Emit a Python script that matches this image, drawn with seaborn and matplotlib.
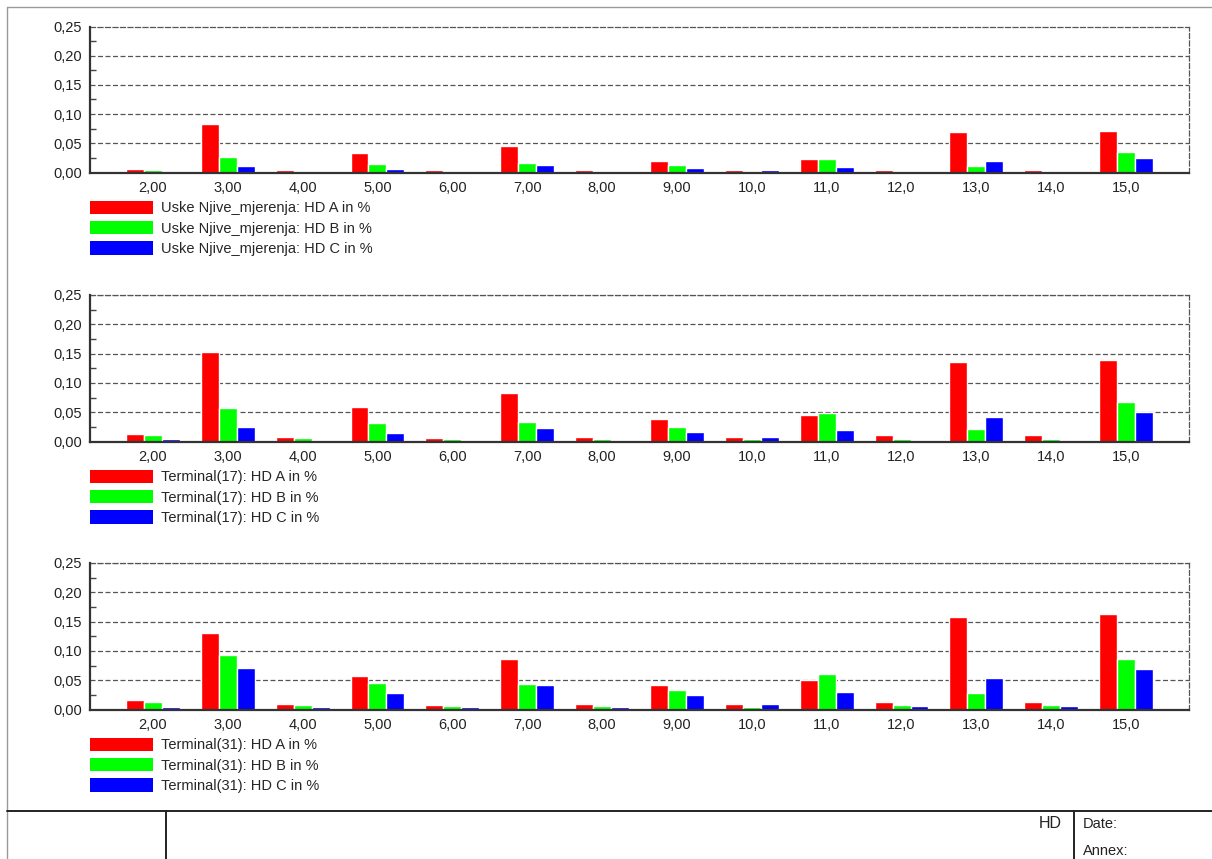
import pandas as pd
import matplotlib.pyplot as plt
import matplotlib.ticker as mticker
from matplotlib.patches import Patch
from matplotlib.lines import Line2D
import seaborn as sns

# -----------------------------
# Data
# -----------------------------
harmonics = ['2,00', '3,00', '4,00', '5,00', '6,00', '7,00', '8,00',
             '9,00', '10,0', '11,0', '12,0', '13,0', '14,0', '15,0']

# Uske Njive_mjerenja
uske_a = [0.006, 0.0835, 0.004, 0.033, 0.004, 0.046, 0.004, 0.020, 0.0045, 0.023, 0.0045, 0.069, 0.0045, 0.0705]
uske_b = [0.005, 0.026, 0.003, 0.015, 0.003, 0.017, 0.003, 0.013, 0.002, 0.023, 0.003, 0.011, 0.003, 0.035]
uske_c = [0.001, 0.011, 0.001, 0.006, 0.001, 0.012, 0.002, 0.007, 0.0045, 0.010, 0.002, 0.020, 0.002, 0.024]

# Terminal(17)
t17_a = [0.013, 0.153, 0.008, 0.059, 0.006, 0.082, 0.007, 0.038, 0.0085, 0.045, 0.011, 0.136, 0.011, 0.139]
t17_b = [0.011, 0.057, 0.006, 0.032, 0.004, 0.033, 0.004, 0.025, 0.004, 0.048, 0.005, 0.022, 0.005, 0.068]
t17_c = [0.004, 0.024, 0.003, 0.014, 0.003, 0.023, 0.003, 0.016, 0.0085, 0.020, 0.003, 0.041, 0.003, 0.0505]

# Terminal(31)
t31_a = [0.016, 0.131, 0.009, 0.058, 0.008, 0.087, 0.010, 0.0415, 0.010, 0.0505, 0.0125, 0.157, 0.0125, 0.1625]
t31_b = [0.0135, 0.093, 0.007, 0.045, 0.0055, 0.044, 0.0055, 0.033, 0.0045, 0.061, 0.007, 0.0275, 0.007, 0.0855]
t31_c = [0.005, 0.071, 0.0045, 0.029, 0.0045, 0.0415, 0.0045, 0.024, 0.010, 0.030, 0.0055, 0.054, 0.0055, 0.069]

panels = [
    ('Uske Njive_mjerenja', [uske_a, uske_b, uske_c]),
    ('Terminal(17)', [t17_a, t17_b, t17_c]),
    ('Terminal(31)', [t31_a, t31_b, t31_c]),
]
phases = ['A', 'B', 'C']
colors = ['#ff0000', '#00ff00', '#0000ff']

# -----------------------------
# Figure setup
# -----------------------------
sns.set_style('white')
plt.rcParams['font.family'] = ['Liberation Sans', 'DejaVu Sans']
plt.rcParams['font.size'] = 10

W, H = 1212, 859
fig = plt.figure(figsize=(W / 100, H / 100), dpi=100)

# axes boxes in pixels: (top, bottom)
boxes = [(26.5, 172.5), (295, 441.5), (563, 709.5)]
ax_left, ax_right = 90, 1189

for (name, series), (top, bottom) in zip(panels, boxes):
    ax = fig.add_axes([ax_left / W, 1 - bottom / H,
                       (ax_right - ax_left) / W, (bottom - top) / H])

    rows = []
    for phase, vals in zip(phases, series):
        label = f'{name}: HD {phase} in %'
        for h, v in zip(harmonics, vals):
            rows.append({'harmonic': h, 'value': v, 'series': label})
    df = pd.DataFrame(rows)

    sns.barplot(data=df, x='harmonic', y='value', hue='series',
                palette=colors, width=0.72, gap=0, legend=False,
                saturation=1, ax=ax)

    ax.set_xlim(-0.84, len(harmonics) - 1 + 0.84)
    ax.set_ylim(0, 0.25)
    ax.set_xlabel('')
    ax.set_ylabel('')

    ax.yaxis.set_major_locator(mticker.MultipleLocator(0.05))
    ax.yaxis.set_minor_locator(mticker.MultipleLocator(0.025))
    ax.yaxis.set_major_formatter(
        mticker.FuncFormatter(lambda v, p: f'{v:.2f}'.replace('.', ',')))
    ax.tick_params(axis='y', which='major', length=0, pad=6,
                   labelsize=10.5, labelcolor='#222222')
    ax.tick_params(axis='y', which='minor', left=True, length=4,
                   direction='in', color='#444444', width=1)
    ax.tick_params(axis='x', length=0, pad=6, labelsize=10.5,
                   labelcolor='#222222')

    ax.grid(axis='y', which='major', linestyle=(0, (4, 2)),
            color='#555555', linewidth=0.9)
    ax.set_axisbelow(True)

    for side in ['left', 'bottom']:
        ax.spines[side].set_color('#333333')
        ax.spines[side].set_linewidth(1.6)
        ax.spines[side].set_zorder(5)
    for side in ['top', 'right']:
        ax.spines[side].set_linestyle((0, (4, 2)))
        ax.spines[side].set_color('#555555')
        ax.spines[side].set_linewidth(0.9)

    handles = [Patch(facecolor=c, edgecolor='none') for c in colors]
    labels = [f'{name}: HD {p} in %' for p in phases]
    ax.legend(handles, labels, loc='upper left',
              bbox_to_anchor=(0, -(200.5 - 172.5) / 146),
              frameon=False, fontsize=10.5,
              handlelength=4.3, handleheight=1.05,
              labelspacing=0.38, handletextpad=0.55,
              borderpad=0, borderaxespad=0)

# -----------------------------
# Page frame and footer block
# -----------------------------
def px_line(x0, y0, x1, y1, color, lw):
    fig.add_artist(Line2D([x0 / W, x1 / W], [1 - y0 / H, 1 - y1 / H],
                          transform=fig.transFigure, color=color, linewidth=lw))

px_line(7, 7, W, 7, '#9a9a9a', 1.0)
px_line(7, 7, 7, H, '#9a9a9a', 1.0)
px_line(7, 811, W, 811, '#222222', 1.4)
px_line(166, 811, 166, H, '#222222', 1.4)
px_line(1074, 811, 1074, H, '#222222', 1.4)

fig.text(1062 / W, 1 - 824 / H, 'HD', ha='right', va='center',
         fontsize=11.5, color='#222222')
fig.text(1083 / W, 1 - 824 / H, 'Date:', ha='left', va='center',
         fontsize=10.5, color='#222222')
fig.text(1083 / W, 1 - 851 / H, 'Annex:', ha='left', va='center',
         fontsize=10.5, color='#222222')

plt.savefig('out.png', dpi=100)
